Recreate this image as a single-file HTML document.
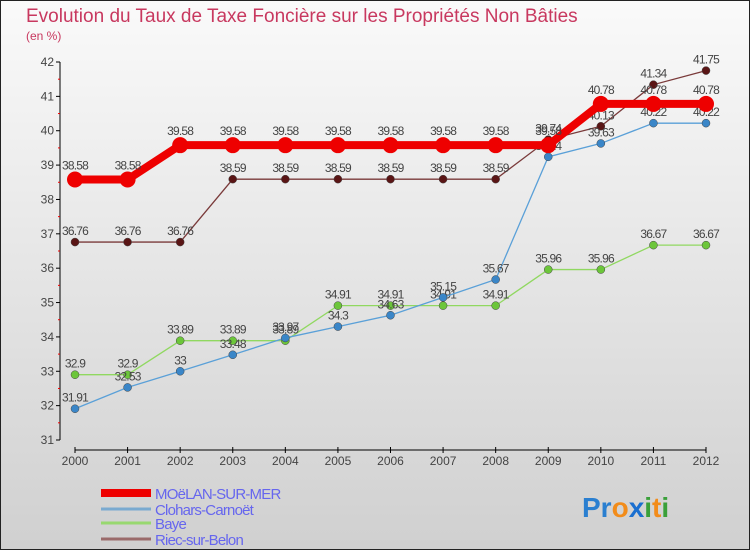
<!DOCTYPE html>
<html><head><meta charset="utf-8"><style>
body{margin:0;width:750px;height:550px;overflow:hidden;font-family:"Liberation Sans",sans-serif}
svg text{font-family:"Liberation Sans",sans-serif}
</style></head><body>
<svg id="c" width="750" height="550" xmlns="http://www.w3.org/2000/svg">
<defs><linearGradient id="bg" x1="0" y1="0" x2="0" y2="1"><stop offset="0" stop-color="#fafafa"/><stop offset="1" stop-color="#d0d0d0"/></linearGradient></defs>
<rect x="0.5" y="0.5" width="749" height="549" fill="url(#bg)" stroke="#222"/>
<text x="26" y="22" font-size="19" fill="#c8385f">Evolution du Taux de Taxe Foncière sur les Propriétés Non Bâties</text>
<text x="26" y="40" font-size="12" fill="#c8385f">(en %)</text>
<g id="axes"></g><g id="series"></g><g id="legend"></g>
<text x="582" y="517" font-size="28" font-weight="bold"><tspan fill="#2a7fd0">Pr</tspan><tspan fill="#f28c1a">o</tspan><tspan fill="#1a6fd0">x</tspan><tspan fill="#3aa03a">i</tspan><tspan fill="#f28c1a">t</tspan><tspan fill="#3aa03a">i</tspan></text>
</svg>
<script>
const years=[2000,2001,2002,2003,2004,2005,2006,2007,2008,2009,2010,2011,2012];
const yTicks=[31,32,33,34,35,36,37,38,39,40,41,42];
const moelan=[38.58,38.58,39.58,39.58,39.58,39.58,39.58,39.58,39.58,39.58,40.78,40.78,40.78];
const clohars=[31.91,32.53,33,33.48,33.97,34.3,34.63,35.15,35.67,39.24,39.63,40.22,40.22];
const baye=[32.9,32.9,33.89,33.89,33.89,34.91,34.91,34.91,34.91,35.96,35.96,36.67,36.67];
const riec=[36.76,36.76,36.76,38.59,38.59,38.59,38.59,38.59,38.59,39.74,40.13,41.34,41.75];
const NS="http://www.w3.org/2000/svg";
const X=i=>75+i*(706-75)/(years.length-1);
const Y=v=>440-(v-31)*(440-62)/11;
function mk(t,a,p){const e=document.createElementNS(NS,t);for(const k in a)e.setAttribute(k,a[k]);p.appendChild(e);return e;}
const ax=document.getElementById('axes');
let e=mk('line',{x1:60,y1:62,x2:60,y2:440,stroke:'#000'},ax);


yTicks.forEach(v=>{mk('line',{x1:56,y1:Y(v),x2:60,y2:Y(v),stroke:'#000'},ax);
 if(v<42)mk('line',{x1:58,y1:Y(v+0.5),x2:60,y2:Y(v+0.5),stroke:'#e00'},ax);
 const t=mk('text',{x:54,y:Y(v)+4,'font-size':12,'text-anchor':'end',fill:'#444'},ax);t.textContent=v;
 
 });
e=mk('line',{x1:75,y1:450,x2:706,y2:450,stroke:'#000'},ax);


years.forEach((y,i)=>{mk('line',{x1:X(i),y1:447,x2:X(i),y2:453,stroke:'#000'},ax);
 const t=mk('text',{x:X(i),y:465,'font-size':12,'text-anchor':'middle',fill:'#444'},ax);t.textContent=y;
 
 });
const sg=document.getElementById('series');
const defs=[['riec',riec,'#7a3a3a','#5a1515',1.3,4],['baye',baye,'#90d860','#6cc63a',1.3,4],['clohars',clohars,'#5aa0d8','#3a86c8',1.3,4],['moelan',moelan,'#ee0000','#ee0000',8,8]];
defs.forEach(([n,d,lc,pc,w,r])=>{
 const g=mk('g',{},sg);
 
 
 mk('polyline',{points:d.map((v,i)=>X(i)+','+Y(v)).join(' '),fill:'none',stroke:lc,'stroke-width':w},g);
 d.forEach((v,i)=>{const c=mk('circle',{cx:X(i),cy:Y(v),r:r,fill:pc,stroke:n=='moelan'?'none':'#444','stroke-width':0.5},g);
  
  
  const t=mk('text',{x:X(i),y:Y(v)-(n=='moelan'?10:7),'font-size':12,'text-anchor':'middle',fill:'#444','letter-spacing':'-0.8'},g);t.textContent=v;
  
  });
});
const lg=document.getElementById('legend');
[['MOëLAN-SUR-MER','#ee0000',8,493],['Clohars-Carnoët','#7aaad0',3,509],['Baye','#98d870',3,523],['Riec-sur-Belon','#9a6a6a',3,539]].forEach(([n,c,w,y])=>{
 const g=mk('g',{},lg);
 
 
 mk('line',{x1:101,y1:y,x2:151,y2:y,stroke:c,'stroke-width':w},g);
 const t=mk('text',{x:155,y:y+6,'font-size':15,fill:'#6666ee','letter-spacing':'-0.8'},g);t.textContent=n;
});
</script>
</body></html>
